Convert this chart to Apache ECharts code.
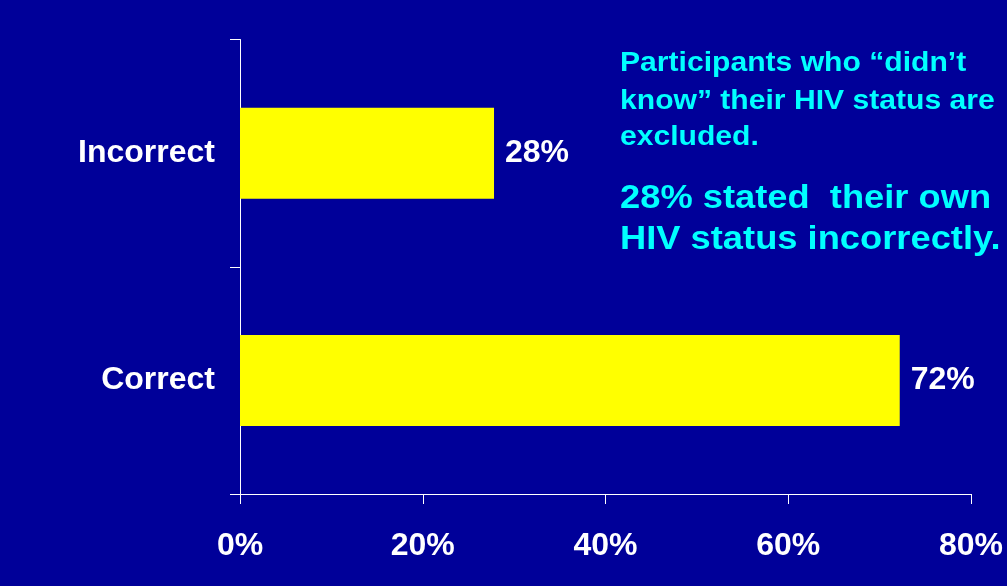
<!DOCTYPE html>
<html>
<head>
<meta charset="utf-8">
<script src="https://cdn.jsdelivr.net/npm/echarts@6/dist/echarts.min.js"></script>
<style>
html,body{margin:0;padding:0;background:#000099;}
#chart{width:1007px;height:586px;}
</style>
</head>
<body>
<div id="chart"></div>
<script>
var categories = ['Correct', 'Incorrect'];
var values = [72.2, 27.8];
var xTicks = [0, 20, 40, 60, 80];
var noteLines = ['Participants who \u201cdidn\u2019t', 'know\u201d their HIV status are', 'excluded.'];
var headlineLines = ['28% stated  their own', 'HIV status incorrectly.'];

var FONT = '"Liberation Sans", Arial, sans-serif';
var chart = echarts.init(document.getElementById('chart'), null, {renderer: 'canvas'});

var graphics = [];
var noteY = [63, 101.5, 137.5];
noteLines.forEach(function (t, i) {
  graphics.push({type: 'text', x: 620, y: noteY[i], scaleX: 1.075, scaleY: 1,
    style: {x: 0, y: 0, text: t, fill: '#00FFFF', font: 'bold 28px ' + FONT, align: 'left', verticalAlign: 'middle'}});
});
var headY = [198.5, 239.5];
headlineLines.forEach(function (t, i) {
  graphics.push({type: 'text', x: 620, y: headY[i], scaleX: 1.1, scaleY: 1,
    style: {x: 0, y: 0, text: t, fill: '#00FFFF', font: 'bold 33px ' + FONT, align: 'left', verticalAlign: 'middle'}});
});

chart.setOption({
  backgroundColor: '#000099',
  animation: false,
  grid: {left: 240, right: 36, top: 39.5, bottom: 92, containLabel: false},
  xAxis: {
    type: 'value', min: xTicks[0], max: xTicks[xTicks.length - 1], interval: 20,
    axisLine: {show: true, lineStyle: {color: '#FFFFFF', width: 1}},
    axisTick: {show: true, length: 10, lineStyle: {color: '#FFFFFF'}},
    splitLine: {show: false},
    axisLabel: {formatter: '{value}%', color: '#FFFFFF', fontFamily: FONT, fontWeight: 'bold', fontSize: 32, margin: 36}
  },
  yAxis: {
    type: 'category', data: categories,
    axisLine: {show: true, lineStyle: {color: '#FFFFFF', width: 1}},
    axisTick: {show: true, length: 10, lineStyle: {color: '#FFFFFF'}},
    axisLabel: {color: '#FFFFFF', fontFamily: FONT, fontWeight: 'bold', fontSize: 32, margin: 25}
  },
  series: [{
    type: 'bar', data: values, barWidth: 91,
    itemStyle: {color: '#FFFF00'},
    label: {show: true, position: 'right', distance: 11,
      formatter: function (p) { return Math.round(p.value) + '%'; },
      color: '#FFFFFF', fontFamily: FONT, fontWeight: 'bold', fontSize: 32}
  }],
  graphic: graphics
});
</script>
</body>
</html>
